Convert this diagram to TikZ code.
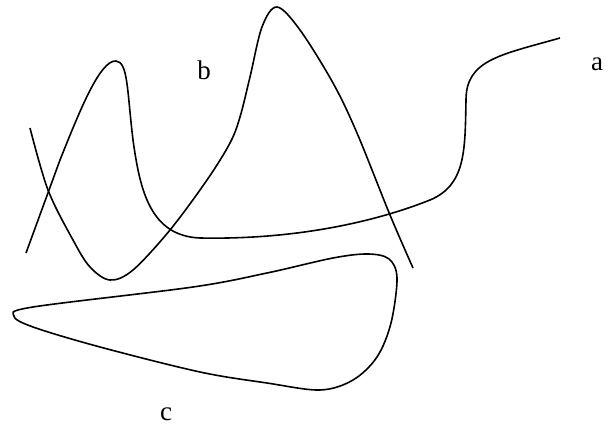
\documentclass[tikz,border=0pt]{standalone}
\usepackage{fontspec}
\setmainfont{Liberation Serif}
\begin{document}
\begin{tikzpicture}[
        x=1pt, y=-1pt,
        curve/.style={
            draw=black,
            line width=1.6pt,
            smooth,
            tension=0.55
        },
        lbl/.style={
            inner sep=0pt,
            font=\fontsize{27}{30}\selectfont
        }
    ]

    \useasboundingbox (0,0) rectangle (615,427);

    % curve a
    \draw[curve] (560,38) .. controls (500,55) and (466,60) .. (466,100)
        .. controls (465,150) and (466,185) .. (430,200)
        .. controls (380,220) and (300,240) .. (200,238)
        .. controls (150,236) and (140,190) .. (133,140)
        .. controls (127,90) and (128,62) .. (116,61)
        .. controls (100,60) and (80,110) .. (60,160)
        -- (26,253);

    % curve b
    \draw[curve] plot coordinates {(30,128) (48,190) (73,240) (90,267) (110,280)
        (133,270) (170,230) (207,180) (230,143) (240,117) (250,77) (262,27)
        (277,7) (300,30) (333,83) (357,133) (390,215) (413,268)};

    % curve c
    \draw[curve] plot[smooth cycle] coordinates {(33,307) (193,287) (267,273)
        (333,258) (368,254) (389,259) (397,278) (391,323) (377,357) (353,380)
        (320,390) (267,383) (200,372) (100,347) (33,327) (14,316)};

    \node[lbl] (la) at (597,64) {a};
    \node[lbl] (lb) at (204,70) {b};
    \node[lbl] (lc) at (166,414) {c};

\end{tikzpicture}
\end{document}
